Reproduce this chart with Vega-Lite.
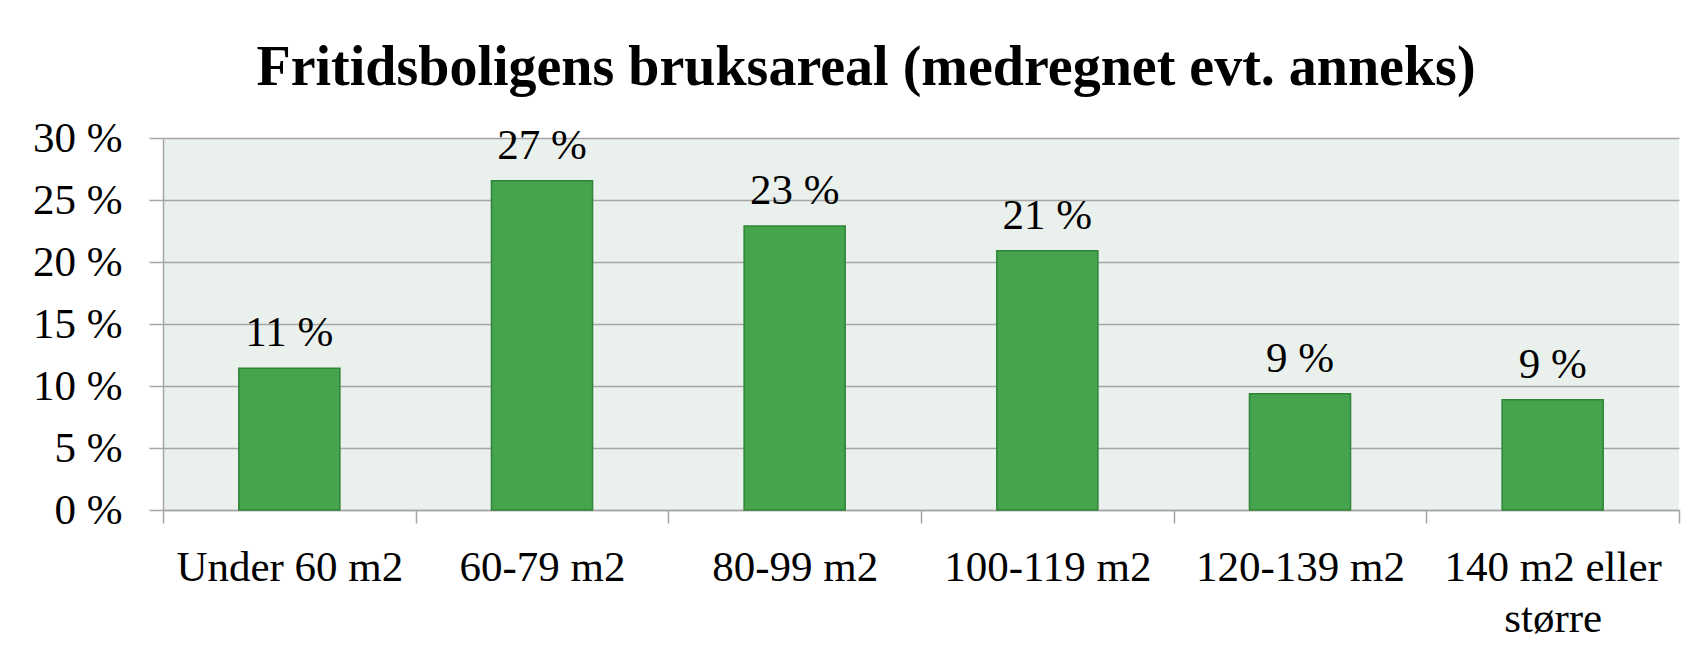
{
  "$schema": "https://vega.github.io/schema/vega-lite/v6.json",
  "width": 1516,
  "height": 372,
  "autosize": {"type": "none"},
  "padding": {"left": 163, "top": 138, "right": 22, "bottom": 144},
  "background": "white",
  "title": {
    "text": "Fritidsboligens bruksareal (medregnet evt. anneks)",
    "font": "Liberation Serif",
    "fontSize": 56,
    "fontWeight": "bold",
    "color": "black",
    "anchor": "middle",
    "frame": "group",
    "dx": -55,
    "baseline": "alphabetic",
    "offset": -24
  },
  "config": {
    "view": {"fill": "#EAF0EC", "stroke": null},
    "axis": {
      "labelFont": "Liberation Serif",
      "labelFontSize": 43,
      "labelColor": "black",
      "domainColor": "#A6A6A6",
      "domainWidth": 1.5,
      "tickColor": "#A6A6A6",
      "tickWidth": 1.5,
      "gridColor": "#A6A6A6",
      "gridWidth": 1.5
    }
  },
  "data": {
    "values": [
      {"cat": "Under 60 m2", "value": 11.43},
      {"cat": "60-79 m2", "value": 26.56},
      {"cat": "80-99 m2", "value": 22.9},
      {"cat": "100-119 m2", "value": 20.9},
      {"cat": "120-139 m2", "value": 9.38},
      {"cat": "140 m2 eller større", "value": 8.9}
    ]
  },
  "transform": [
    {"calculate": "format(datum.value, '.0f') + ' %'", "as": "label"}
  ],
  "encoding": {
    "x": {
      "field": "cat",
      "type": "nominal",
      "sort": null,
      "scale": {"paddingInner": 0, "paddingOuter": 0},
      "axis": {
        "title": null,
        "labelAngle": 0,
        "tickBand": "extent",
        "tickSize": 13,
        "labelPadding": 57,
        "labelBaseline": "alphabetic",
        "labelLineHeight": 51,
        "labelLimit": 400,
        "grid": false,
        "labelExpr": "datum.value == '140 m2 eller større' ? ['140 m2 eller', 'større'] : datum.value"
      }
    },
    "y": {
      "field": "value",
      "type": "quantitative",
      "scale": {"domain": [0, 30], "nice": false},
      "axis": {
        "title": null,
        "values": [0, 5, 10, 15, 20, 25, 30],
        "labelExpr": "datum.value + ' %'",
        "tickSize": 14,
        "labelPadding": 27,
        "grid": true
      }
    }
  },
  "layer": [
    {
      "mark": {"type": "bar", "width": {"band": 0.4}, "fill": "#46A44F", "stroke": "#2F8436", "strokeWidth": 1.5}
    },
    {
      "mark": {
        "type": "text",
        "font": "Liberation Serif",
        "fontSize": 43,
        "color": "black",
        "baseline": "alphabetic",
        "dy": -22
      },
      "encoding": {"text": {"field": "label"}}
    }
  ]
}
